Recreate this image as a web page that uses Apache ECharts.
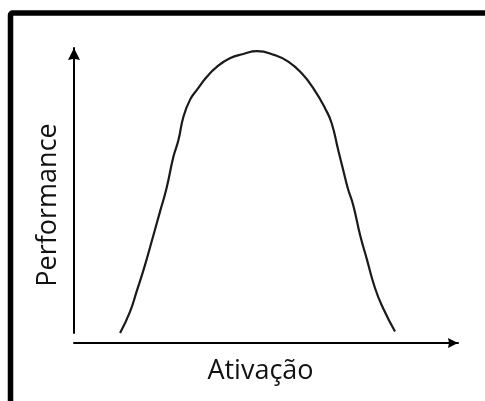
<!DOCTYPE html>
<html>
<head>
<meta charset="utf-8">
<script src="https://cdn.jsdelivr.net/npm/echarts@6/dist/echarts.min.js"></script>
<style>
  html, body { margin: 0; padding: 0; background: #fff; }
  #main { width: 485px; height: 401px; }
</style>
</head>
<body>
<div id="main"></div>
<script>
// curve, arbitrary units (0..100 on both axes)
var ativacao = [12, 14.6, 16.3, 18.5, 20.7, 22.4, 24.1, 25.9, 27.2, 28.5, 30.2, 32.0, 34.6, 37.2, 40.6, 44.1, 47.6,
  52.3, 55.8, 59.3, 62.3, 65.4, 67.1, 68.8, 70.1, 71.3, 72.7, 74.5, 76.2, 78.4, 80.5, 83.6];
var performance = [0, 7.5, 14.5, 23.9, 34.4, 42.6, 50.8, 61.9, 67.7, 75.9, 81.8, 85.3, 89.9, 93.4, 96.4, 97.9, 98.9,
  97.5, 95.2, 91.1, 85.9, 78.8, 73.6, 64.2, 57.2, 50.8, 44.9, 34.4, 26.2, 15.7, 8.7, 0.5];
var xLabel = 'Ativação';
var yLabel = 'Performance';

var points = ativacao.map(function (x, i) { return [x, performance[i]]; });

var font = '"Open Sans", "Noto Sans", sans-serif';
var arrowHead = 'path://M5,0 L10,10 L5,9 L0,10 Z';

var myChart = echarts.init(document.getElementById('main'));
myChart.setOption({
  animation: false,
  backgroundColor: '#fff',
  grid: { left: 74, right: 27, top: 48, bottom: 68 },
  xAxis: {
    type: 'value', min: 0, max: 100, offset: 10,
    axisLine: { show: true, onZero: false, symbol: ['none', arrowHead], symbolSize: [16, 10], symbolOffset: [0, -5],
      lineStyle: { color: '#000', width: 2 } },
    axisTick: { show: false }, axisLabel: { show: false }, splitLine: { show: false }
  },
  yAxis: {
    type: 'value', min: 0, max: 100,
    axisLine: { show: true, onZero: false, symbol: ['none', arrowHead], symbolSize: [13, 12], symbolOffset: [0, -6],
      lineStyle: { color: '#000', width: 2 } },
    axisTick: { show: false }, axisLabel: { show: false }, splitLine: { show: false }
  },
  graphic: [
    { type: 'rect', shape: { x: 10.5, y: 13, width: 700, height: 700, r: 2 },
      style: { fill: 'none', stroke: '#000', lineWidth: 5.5 } },
    { type: 'text', x: 260.5, y: 371,
      style: { text: xLabel, font: '27px ' + font, fill: '#111', align: 'center', verticalAlign: 'middle' } },
    { type: 'text', x: 48, y: 205, rotation: Math.PI / 2,
      style: { text: yLabel, font: '27px ' + font, fill: '#111', align: 'center', verticalAlign: 'middle' } }
  ],
  series: [{
    type: 'line',
    data: points,
    smooth: 0.5,
    symbol: 'none',
    lineStyle: { color: '#1a1a1a', width: 2.2 }
  }]
});
</script>
</body>
</html>
